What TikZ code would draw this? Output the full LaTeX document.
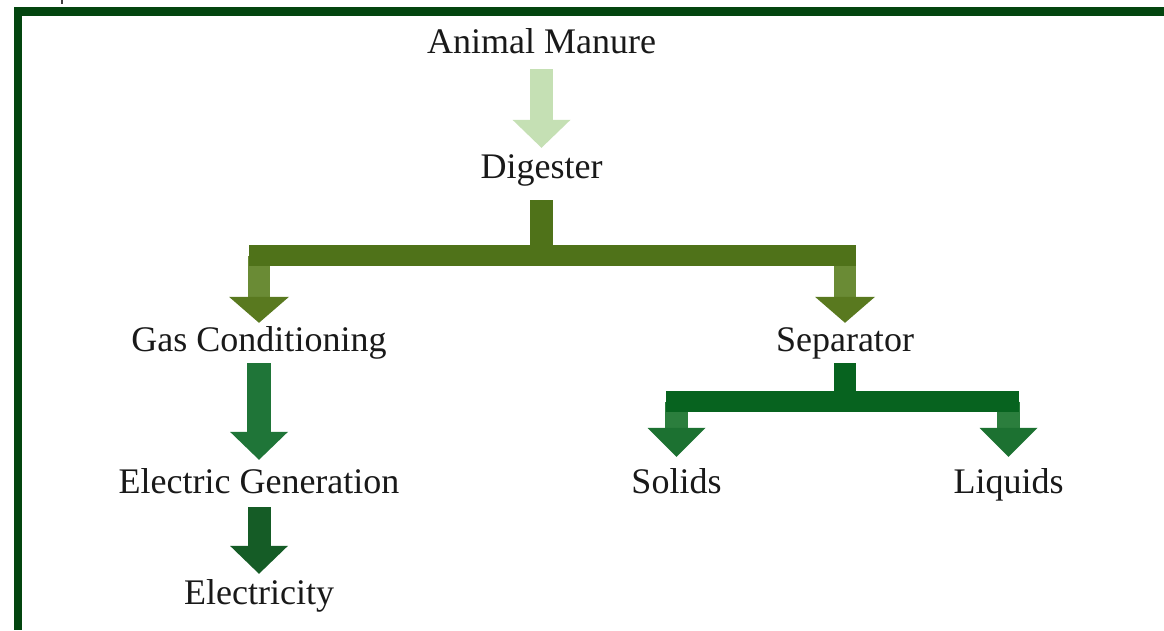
\documentclass[tikz,border=0pt]{standalone}
\usepackage{fontspec}
\setmainfont{Liberation Serif}
\usetikzlibrary{arrows.meta}
\definecolor{bordergreen}{HTML}{03450F}
\definecolor{manurecol}{HTML}{C5E0B4}
\definecolor{fa}{HTML}{4F7219}
\definecolor{fashaft}{HTML}{6A8B35}
\definecolor{fahead}{HTML}{59791F}
\definecolor{gccol}{HTML}{1F7538}
\definecolor{egcol}{HTML}{155C26}
\definecolor{fb}{HTML}{07631F}
\definecolor{fbshaft}{HTML}{2B7E3D}
\definecolor{fbhead}{HTML}{1C7131}
\tikzset{
  lbl/.style={inner sep=0pt, text height=22pt, text depth=10pt, anchor=base,
    font=\fontsize{36}{40}\selectfont, text=black!90},
  block/.style={line width=23pt, line cap=butt},
  headA/.style={-{Triangle[width=58pt,length=28pt,line width=0pt,color=#1,fill=#1]}},
  headB/.style={-{Triangle[width=60pt,length=26pt,line width=0pt,color=#1,fill=#1]}},
  headC/.style={-{Triangle[width=58pt,length=29pt,line width=0pt,color=#1,fill=#1]}},
}
\begin{document}
\begin{tikzpicture}[x=1pt,y=-1pt]
\useasboundingbox (0,0) rectangle (1164,630);
\fill[white] (0,0) rectangle (1164,630);
% frame
\fill[bordergreen] (14,7) rectangle (1164,15.5);
\fill[bordergreen] (14,7) rectangle (22,630);
\fill[black!75] (60.5,0) rectangle (62.5,4);
% nodes
\node[lbl] (am) at (541.5,53) {Animal Manure};
\node[lbl] (dg) at (541.5,178) {Digester};
\node[lbl] (gc) at (259,351) {Gas Conditioning};
\node[lbl] (sp) at (845,351) {Separator};
\node[lbl] (eg) at (259,493) {Electric Generation};
\node[lbl] (el) at (259,604) {Electricity};
\node[lbl] (so) at (676.5,493) {Solids};
\node[lbl] (li) at (1008.5,493) {Liquids};
% Animal Manure -> Digester
\draw[block, manurecol, headA=manurecol, shorten <=6pt, shorten >=8pt] (am.south) -- (dg.north);
% fork 1
\coordinate (f1) at (541.5,255.5);
\coordinate (f1l) at (gc.north |- f1);
\coordinate (f1r) at (sp.north |- f1);
\draw[block, line width=22pt, fashaft, headB=fahead, shorten >=6pt] (f1l) -- (gc.north);
\draw[block, line width=22pt, fashaft, headB=fahead, shorten >=6pt] (f1r) -- (sp.north);
\draw[block, fa, shorten <=12pt] (dg.south) -- (f1);
\draw[fa, line width=21pt, line cap=rect] (f1l) -- (f1r);
% Gas Conditioning -> Electric Generation -> Electricity
\draw[block, line width=24pt, gccol, headA=gccol, shorten <=2pt, shorten >=11pt] (gc.south) -- (eg.north);
\draw[block, egcol, headA=egcol, shorten <=4pt, shorten >=8pt] (eg.south) -- (el.north);
% fork 2
\coordinate (f2) at (845,401.5);
\coordinate (f2l) at (so.north |- f2);
\coordinate (f2r) at (li.north |- f2);
\draw[block, fbshaft, headC=fbhead, shorten >=14pt] (f2l) -- (so.north);
\draw[block, fbshaft, headC=fbhead, shorten >=14pt] (f2r) -- (li.north);
\draw[block, line width=22pt, fb, shorten <=2pt] (sp.south) -- (f2);
\draw[fb, line width=21pt, line cap=rect] (f2l) -- (f2r);
\end{tikzpicture}
\end{document}
